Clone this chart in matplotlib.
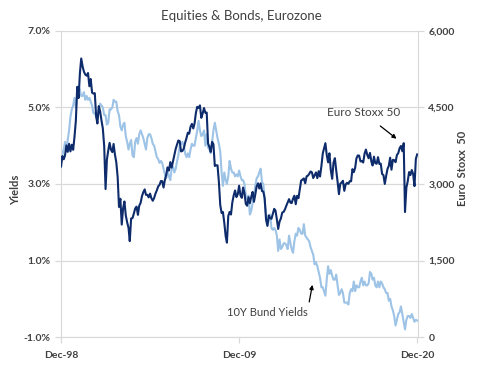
import numpy as np
import pandas as pd
import matplotlib
matplotlib.use("Agg")
import matplotlib.pyplot as plt

# Monthly observations, Dec-1998 .. Dec-2020
start_month = "1998-12"
n_months = 265

stoxx = [
    3342,
    3547, 3484, 3559, 3757, 3629, 3788, 3638, 3769, 3669, 3923, 4244, 4904,
    4684, 5182, 5460, 5303, 5200, 5145, 5122, 5175, 4915, 5057, 4790, 4772,
    4780, 4319, 4185, 4526, 4426, 4243, 4091, 3744, 2900, 3478, 3659, 3806,
    3670, 3624, 3784, 3574, 3425, 3133, 2550, 2710, 2204, 2519, 2657, 2386,
    2248, 2141, 1880, 2324, 2330, 2419, 2519, 2556, 2395, 2575, 2630, 2760,
    2839, 2894, 2787, 2788, 2737, 2811, 2720, 2671, 2726, 2811, 2876, 2951,
    2984, 3058, 3056, 2930, 3076, 3182, 3326, 3263, 3429, 3320, 3447, 3579,
    3691, 3775, 3853, 3839, 3637, 3649, 3692, 3809, 3900, 4004, 3987, 4120,
    4178, 4088, 4182, 4392, 4512, 4489, 4540, 4296, 4382, 4489, 4394, 4400,
    3792, 3724, 3628, 3826, 3777, 3353, 3367, 3365, 3038, 2592, 2430, 2451,
    2237, 1976, 1850, 2375, 2451, 2401, 2638, 2775, 2873, 2743, 2797, 2966,
    2776, 2728, 2931, 2817, 2610, 2574, 2742, 2623, 2748, 2844, 2651, 2793,
    2954, 3013, 2911, 3012, 2862, 2849, 2719, 2302, 2180, 2385, 2330, 2317,
    2417, 2512, 2477, 2306, 2119, 2265, 2325, 2440, 2454, 2503, 2575, 2636,
    2703, 2634, 2625, 2712, 2770, 2603, 2768, 2722, 2893, 3068, 3086, 3109,
    3013, 3150, 3162, 3198, 3245, 3228, 3116, 3173, 3226, 3114, 3251, 3146,
    3351, 3599, 3697, 3800, 3570, 3424, 3601, 3270, 3101, 3418, 3506, 3268,
    3045, 2800, 3005, 3028, 3063, 2865, 2990, 3023, 3002, 3055, 3052, 3291,
    3231, 3319, 3501, 3560, 3555, 3442, 3449, 3421, 3595, 3674, 3570, 3504,
    3609, 3439, 3362, 3536, 3407, 3396, 3526, 3393, 3399, 3197, 3173, 3001,
    3159, 3298, 3352, 3515, 3280, 3474, 3467, 3427, 3569, 3604, 3703, 3745,
    3641, 3800, 2450, 2928, 3050, 3234, 3174, 3273, 3194, 2958, 3493, 3580,
]

bund = [
    3.90,
    3.75, 3.90, 4.10, 3.95, 4.15, 4.40, 4.75, 4.95, 5.05, 5.25, 5.00, 5.30,
    5.55, 5.45, 5.30, 5.30, 5.40, 5.20, 5.30, 5.20, 5.25, 5.15, 5.05, 4.85,
    4.85, 4.75, 4.70, 4.95, 5.10, 5.05, 5.00, 4.80, 4.80, 4.55, 4.60, 4.95,
    4.95, 5.00, 5.20, 5.15, 5.15, 4.90, 4.80, 4.50, 4.40, 4.55, 4.60, 4.25,
    4.10, 3.90, 4.05, 4.15, 3.75, 3.70, 4.10, 4.20, 4.05, 4.30, 4.40, 4.30,
    4.20, 4.05, 3.90, 4.20, 4.30, 4.30, 4.20, 4.05, 4.00, 3.85, 3.70, 3.65,
    3.55, 3.60, 3.55, 3.40, 3.25, 3.15, 3.35, 3.20, 3.10, 3.40, 3.45, 3.30,
    3.40, 3.60, 3.75, 4.00, 4.05, 4.10, 4.00, 3.80, 3.70, 3.80, 3.70, 3.90,
    4.05, 4.00, 4.00, 4.20, 4.40, 4.65, 4.40, 4.25, 4.30, 4.40, 4.00, 4.30,
    3.95, 3.90, 3.80, 4.10, 4.40, 4.60, 4.40, 4.20, 4.05, 3.85, 3.30, 2.95,
    3.30, 3.10, 3.00, 3.20, 3.60, 3.40, 3.30, 3.30, 3.20, 3.25, 3.20, 3.35,
    3.20, 3.10, 3.10, 3.00, 2.70, 2.60, 2.70, 2.20, 2.30, 2.50, 2.70, 2.95,
    3.15, 3.20, 3.30, 3.40, 3.05, 3.00, 2.55, 2.20, 1.90, 2.05, 2.20, 1.85,
    1.80, 1.85, 1.80, 1.65, 1.25, 1.55, 1.30, 1.35, 1.45, 1.45, 1.40, 1.30,
    1.65, 1.45, 1.30, 1.20, 1.50, 1.70, 1.65, 1.85, 1.80, 1.70, 1.70, 1.95,
    1.65, 1.60, 1.55, 1.50, 1.35, 1.25, 1.15, 0.90, 0.95, 0.85, 0.70, 0.55,
    0.30, 0.30, 0.20, 0.08, 0.50, 0.85, 0.65, 0.75, 0.60, 0.50, 0.50, 0.63,
    0.35, 0.10, 0.15, 0.25, 0.15, -0.10, -0.10, -0.10, -0.15, 0.15, 0.25, 0.20,
    0.45, 0.20, 0.35, 0.30, 0.30, 0.45, 0.55, 0.35, 0.45, 0.35, 0.35, 0.40,
    0.70, 0.65, 0.50, 0.55, 0.35, 0.30, 0.45, 0.30, 0.45, 0.40, 0.30, 0.25,
    0.15, 0.15, -0.05, 0.00, -0.20, -0.30, -0.45, -0.70, -0.55, -0.40, -0.35, -0.20,
    -0.40, -0.60, -0.80, -0.55, -0.45, -0.45, -0.50, -0.40, -0.50, -0.60, -0.55, -0.57,
]

yield_ticks = [-1.0, 1.0, 3.0, 5.0, 7.0]
stoxx_ticks = [0, 1500, 3000, 4500, 6000]
x_tick_labels = ["Dec-98", "Dec-09", "Dec-20"]
x_tick_dates = ["1998-12-15", "2009-12-15", "2020-12-15"]

dates = pd.date_range(start_month, periods=n_months, freq="MS") + pd.Timedelta(days=14)

plt.rcParams['font.family'] = ['Lato', 'DejaVu Sans']
text_c = "#404040"
grid_c = "#D9D9D9"
navy = "#0E2C6B"
light = "#9DC3E6"

fig = plt.figure(figsize=(4.82, 3.77), dpi=100)
ax = fig.add_axes([0.1266, 0.106, 0.7404, 0.812])
ax2 = ax.twinx()

ax.plot(dates, bund, color=light, lw=1.5)
ax2.plot(dates, stoxx, color=navy, lw=1.5)

ax.set_ylim(-1.0, 7.0)
ax.set_yticks(yield_ticks)
ax.set_yticklabels([f"{v:.1f}%" for v in yield_ticks])
ax2.set_ylim(0, 6000)
ax2.set_yticks(stoxx_ticks)
ax2.set_yticklabels([f"{v:,}" for v in stoxx_ticks])

ax.set_xlim(pd.Timestamp("1998-12-15"), pd.Timestamp("2020-12-31"))
ax.set_xticks(pd.to_datetime(x_tick_dates))
ax.set_xticklabels(x_tick_labels)

ax.grid(axis="y", color=grid_c, lw=0.9)
ax.set_axisbelow(True)
for a in (ax, ax2):
    for s in a.spines.values():
        s.set_visible(False)
ax.spines["left"].set_visible(True)
ax.spines["left"].set_color(grid_c)
ax.spines["bottom"].set_visible(True)
ax.spines["bottom"].set_color(grid_c)
ax2.spines["right"].set_visible(True)
ax2.spines["right"].set_color(grid_c)

ax.tick_params(axis="y", colors=grid_c, labelcolor=text_c, labelsize=7.5, length=4, width=0.9)
ax2.tick_params(axis="y", colors=grid_c, labelcolor=text_c, labelsize=7.5, length=4, width=0.9)
ax.tick_params(axis="x", colors=grid_c, labelcolor=text_c, labelsize=7.5, length=4, width=0.9, pad=6)
for lbl in ax.get_yticklabels() + ax2.get_yticklabels() + ax.get_xticklabels():
    lbl.set_fontweight("bold")

fig.text(16 / 482, 1 - 190 / 377, "Yields", rotation=90, ha="center", va="center",
         color=text_c, fontsize=8, fontweight="bold")
fig.text(463 / 482, 1 - 168 / 377, "Euro  Stoxx  50", rotation=90, ha="center", va="center",
         color=text_c, fontsize=8, fontweight="bold")

fig.text(0.5, 0.958, "Equities & Bonds, Eurozone", ha="center", va="center",
         fontsize=9.5, color=text_c)

ax2.annotate("Euro Stoxx 50", xy=(pd.Timestamp("2019-10-01"), 3870),
             xytext=(pd.Timestamp("2017-08-15"), 4400),
             ha="center", va="center", fontsize=8.5, color=text_c,
             arrowprops=dict(arrowstyle="-|>", color="black", lw=0.9, mutation_scale=6, shrinkA=6, shrinkB=1))
ax.annotate("10Y Bund Yields", xy=(pd.Timestamp("2014-07-01"), 0.40),
            xytext=(pd.Timestamp("2011-09-15"), -0.37),
            ha="center", va="center", fontsize=8, color=text_c,
            arrowprops=dict(arrowstyle="-|>", color="black", lw=0.9, mutation_scale=6, shrinkA=2, shrinkB=1,
                            relpos=(1.0, 0.8)))

fig.savefig("out.png", dpi=100)
